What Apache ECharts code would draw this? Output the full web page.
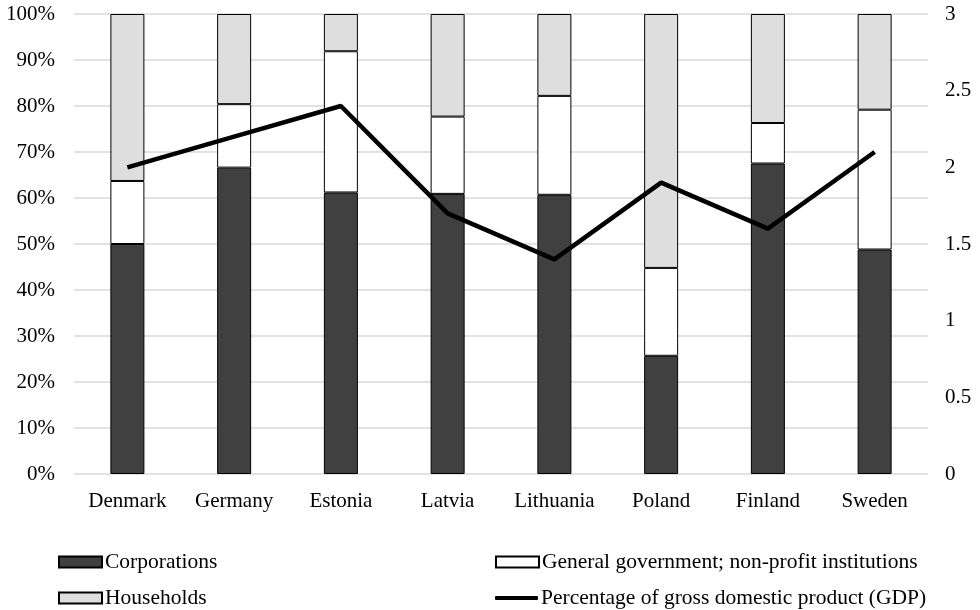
<!DOCTYPE html>
<html>
<head>
<meta charset="utf-8">
<script src="https://cdn.jsdelivr.net/npm/echarts@6/dist/echarts.min.js"></script>
<style>
html,body{margin:0;padding:0;background:#fff;}
#chart{width:980px;height:610px;}
</style>
</head>
<body>
<div id="chart"></div>
<script>
var categories = ['Denmark','Germany','Estonia','Latvia','Lithuania','Poland','Finland','Sweden'];
var corporations = [50.0, 66.6, 61.2, 60.9, 60.7, 25.7, 67.5, 48.8];
var government = [13.7, 13.8, 30.7, 16.8, 21.5, 19.1, 8.8, 30.4];
var households = [36.3, 19.6, 8.1, 22.3, 17.8, 55.2, 23.7, 20.8];
var gdp = [2.0, 2.2, 2.4, 1.7, 1.4, 1.9, 1.6, 2.1];
var leftTicks = ['0%','10%','20%','30%','40%','50%','60%','70%','80%','90%','100%'];
var rightTicks = ['0','0.5','1','1.5','2','2.5','3'];

var FONT = '"Liberation Serif", "DejaVu Serif", serif';
var chart = echarts.init(document.getElementById('chart'), null, {renderer:'canvas'});

function legendAt(name, left, top, icon, h) {
  return {
    data: [{name: name}],
    left: left, top: top,
    padding: 0,
    orient: 'horizontal',
    icon: icon,
    itemWidth: 43, itemHeight: h, itemGap: 4,
    textStyle: {fontFamily: FONT, fontSize: 21.5, color: '#000', padding: [0,0,0,-2]},
    selectedMode: false
  };
}

var option = {
  backgroundColor: '#fff',
  animation: false,
  grid: {left: 74, right: 52, top: 14, bottom: 136},
  legend: [
    legendAt('Corporations', 58, 551, 'rect', 11),
    legendAt('General government; non-profit institutions', 495, 551, 'rect', 11),
    legendAt('Households', 58, 587, 'rect', 11),
    legendAt('Percentage of gross domestic product (GDP)', 495, 587, 'roundRect', 4)
  ],
  xAxis: {
    type: 'category',
    data: categories,
    axisLine: {show: false},
    axisTick: {show: false},
    axisLabel: {fontFamily: FONT, fontSize: 21, color: '#000', margin: 17}
  },
  yAxis: [
    {
      type: 'value', min: 0, max: 100, interval: 10,
      axisLine: {show: false}, axisTick: {show: false},
      splitLine: {lineStyle: {color: '#d9d9d9', width: 1.5}},
      axisLabel: {
        fontFamily: FONT, fontSize: 21, color: '#000', margin: 19,
        formatter: function (v) { return leftTicks[Math.round(v / 10)]; }
      }
    },
    {
      type: 'value', min: 0, max: 3, interval: 0.5,
      axisLine: {show: false}, axisTick: {show: false},
      splitLine: {show: false},
      axisLabel: {
        fontFamily: FONT, fontSize: 21, color: '#000', margin: 17,
        formatter: function (v) { return rightTicks[Math.round(v * 2)]; }
      }
    }
  ],
  series: [
    {
      name: 'Corporations', type: 'bar', stack: 'total', barWidth: 34,
      data: corporations,
      itemStyle: {color: '#404040', borderColor: '#000', borderWidth: 1}
    },
    {
      name: 'General government; non-profit institutions', type: 'bar', stack: 'total', barWidth: 34,
      data: government,
      itemStyle: {color: '#ffffff', borderColor: '#000', borderWidth: 1}
    },
    {
      name: 'Households', type: 'bar', stack: 'total', barWidth: 34,
      data: households,
      itemStyle: {color: '#dedede', borderColor: '#000', borderWidth: 1}
    },
    {
      name: 'Percentage of gross domestic product (GDP)', type: 'line', yAxisIndex: 1,
      data: gdp, symbol: 'none',
      lineStyle: {color: '#000', width: 4.5},
      itemStyle: {color: '#000'},
      z: 5
    }
  ]
};
chart.setOption(option);
</script>
</body>
</html>
